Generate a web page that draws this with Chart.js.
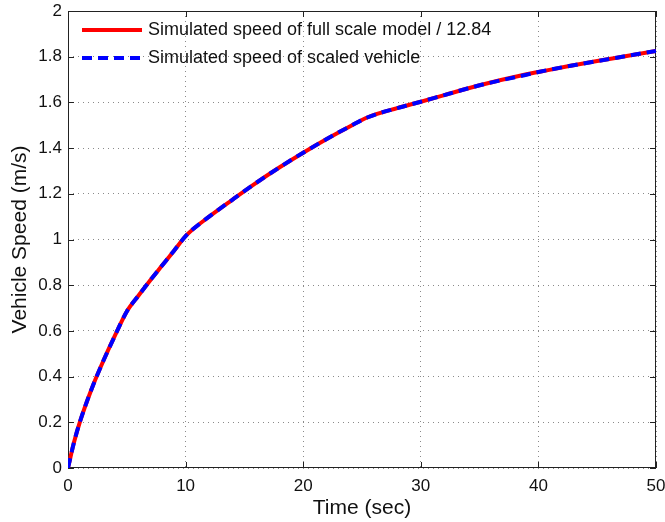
<!DOCTYPE html>
<html>
<head>
<meta charset="utf-8">
<script src="https://cdn.jsdelivr.net/npm/chart.js@4/dist/chart.umd.min.js"></script>
<style>
  html, body { margin: 0; padding: 0; background: #fff; }
  #wrap { width: 665px; height: 522px; }
</style>
</head>
<body>
<div id="wrap"><canvas id="c" width="665" height="522"></canvas></div>
<script>
// time in seconds
const timeSec = [0, 0.5, 1, 2, 3, 4, 5, 6, 7, 8, 9, 10.1, 12, 14, 16, 18, 20, 22, 24, 25.5,
  28, 30, 32, 35, 38.9, 40, 42.5, 45, 47.5, 50];
// full scale model speed divided by 12.84 (m/s)
const fullScaleSpeed = [0, 0.11, 0.2, 0.345, 0.468, 0.58, 0.685, 0.755, 0.822, 0.886, 0.95, 1.02, 1.1, 1.175,
  1.248, 1.316, 1.38, 1.44, 1.496, 1.535, 1.575, 1.603, 1.632, 1.675, 1.722, 1.733, 1.758, 1.781, 1.803, 1.825];
// scaled vehicle speed (m/s)
const scaledSpeed = [0, 0.11, 0.2, 0.345, 0.468, 0.58, 0.685, 0.755, 0.822, 0.886, 0.95, 1.02, 1.1, 1.175,
  1.248, 1.316, 1.38, 1.44, 1.496, 1.535, 1.575, 1.603, 1.632, 1.675, 1.720, 1.733, 1.758, 1.781, 1.803, 1.825];
const seriesNames = ['Simulated speed of full scale model / 12.84', 'Simulated speed of scaled vehicle'];
const xTicks = [0, 10, 20, 30, 40, 50];
const yTicks = [0, 0.2, 0.4, 0.6, 0.8, 1, 1.2, 1.4, 1.6, 1.8, 2];

const FONT = '"Liberation Sans", Arial, sans-serif';
const toPoints = (xs, ys) => xs.map((x, i) => ({ x, y: ys[i] }));

// box round the plot with MATLAB style inner ticks
const boxPlugin = {
  id: 'box',
  beforeDatasetsDraw (chart) {
    const { ctx, chartArea: a, scales } = chart;
    ctx.save();
    ctx.strokeStyle = '#222';
    ctx.lineWidth = 1;
    ctx.setLineDash([]);
    ctx.strokeRect(a.left + 0.5, a.top + 0.5, a.right - a.left - 1, a.bottom - a.top - 1);
    ctx.beginPath();
    xTicks.forEach(v => {
      const px = Math.round(scales.x.getPixelForValue(v)) + 0.5;
      ctx.moveTo(px, a.bottom); ctx.lineTo(px, a.bottom - 6);
      ctx.moveTo(px, a.top); ctx.lineTo(px, a.top + 6);
    });
    yTicks.forEach(v => {
      const py = Math.round(scales.y.getPixelForValue(v)) + 0.5;
      ctx.moveTo(a.left, py); ctx.lineTo(a.left + 6, py);
      ctx.moveTo(a.right, py); ctx.lineTo(a.right - 6, py);
    });
    ctx.stroke();
    ctx.restore();
  }
};

// legend in the upper left corner, no frame
const legendPlugin = {
  id: 'innerLegend',
  afterDraw (chart) {
    const { ctx, chartArea: a } = chart;
    ctx.save();
    ctx.font = '18px ' + FONT;
    ctx.textBaseline = 'middle';
    ctx.fillStyle = '#111';
    chart.data.datasets.forEach((ds, i) => {
      const y = a.top + 19 + i * 28;
      ctx.beginPath();
      ctx.strokeStyle = ds.borderColor;
      ctx.lineWidth = 4;
      ctx.setLineDash(ds.borderDash || []);
      ctx.moveTo(a.left + 14, y);
      ctx.lineTo(a.left + 74, y);
      ctx.stroke();
      ctx.setLineDash([]);
      ctx.fillText(ds.label, a.left + 80, y);
    });
    ctx.restore();
  }
};

new Chart(document.getElementById('c'), {
  type: 'line',
  data: {
    datasets: [
      {
        label: seriesNames[0],
        data: toPoints(timeSec, fullScaleSpeed),
        borderColor: '#ff0000',
        borderWidth: 4,
        pointRadius: 0,
        cubicInterpolationMode: 'monotone',
        order: 2
      },
      {
        label: seriesNames[1],
        data: toPoints(timeSec, scaledSpeed),
        borderColor: '#0000ff',
        borderWidth: 4,
        borderDash: [10, 6],
        pointRadius: 0,
        cubicInterpolationMode: 'monotone',
        order: 1
      }
    ]
  },
  options: {
    responsive: false,
    animation: false,
    layout: { padding: { left: 0, top: 11, right: 9, bottom: 0 } },
    plugins: { legend: { display: false }, tooltip: { enabled: false } },
    scales: {
      x: {
        type: 'linear',
        min: 0,
        max: 50,
        afterBuildTicks: s => { s.ticks = xTicks.map(v => ({ value: v })); },
        afterFit: s => { s.height = 54; s.paddingLeft = 0; s.paddingRight = 0; },
        grid: { color: '#8a8a8a', lineWidth: 1, drawTicks: false },
        border: { display: false, dash: [1, 4] },
        ticks: { color: '#111', font: { family: FONT, size: 17 }, padding: 8, maxRotation: 0 },
        title: { display: true, text: 'Time (sec)', color: '#111', font: { family: FONT, size: 21 }, padding: { top: 0, bottom: 1 } }
      },
      y: {
        type: 'linear',
        min: 0,
        max: 2,
        afterBuildTicks: s => { s.ticks = yTicks.map(v => ({ value: v })); },
        afterFit: s => { s.width = 68; s.paddingTop = 0; s.paddingBottom = 0; },
        grid: { color: '#8a8a8a', lineWidth: 1, drawTicks: false },
        border: { display: false, dash: [1, 4] },
        ticks: {
          color: '#111',
          font: { family: FONT, size: 17 },
          padding: 6,
          callback: v => String(Math.round(v * 10) / 10)
        },
        title: { display: true, text: 'Vehicle Speed (m/s)', color: '#111', font: { family: FONT, size: 21 }, padding: { top: 8, bottom: 0 } }
      }
    }
  },
  plugins: [boxPlugin, legendPlugin]
});
</script>
</body>
</html>
